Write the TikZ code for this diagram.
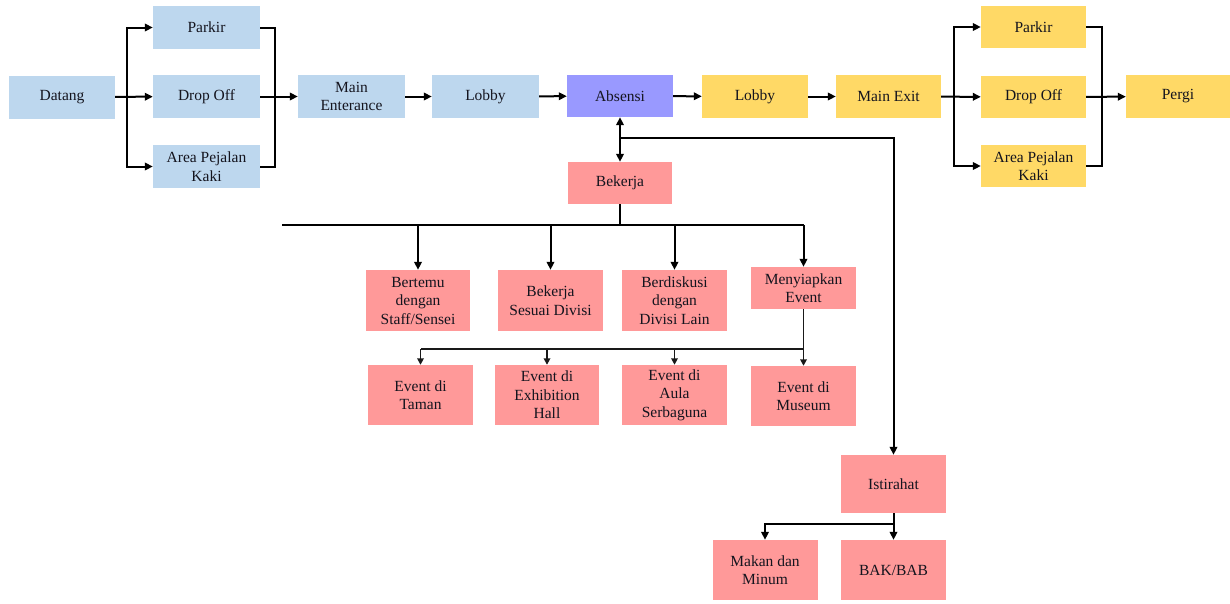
\documentclass[tikz,border=0pt]{standalone}
\usepackage{fontspec}
\setmainfont{Liberation Serif}
\newfontfamily\boxfont{Liberation Serif}
\usetikzlibrary{arrows.meta}
\definecolor{bluefill}{HTML}{BDD7EE}
\definecolor{goldfill}{HTML}{FFD966}
\definecolor{pinkfill}{HTML}{FF9999}
\definecolor{violetfill}{HTML}{9999FF}
\definecolor{ink}{HTML}{14141E}
\begin{document}
\begin{tikzpicture}[x=1pt,y=-1pt,
  box/.style={fill=#1, draw=none, minimum width=105pt, minimum height=43pt,
    inner sep=1pt, align=center, text=ink,
    font=\boxfont\fontsize{15.5}{18.5}\selectfont},
  tallbox/.style={box=#1, minimum height=61pt},
  wire/.style={line width=2pt, draw=black},
  flow/.style={wire, -{Triangle[length=8pt,width=7.5pt]}},
  dflow/.style={wire, {Triangle[length=8pt,width=7.5pt]}-{Triangle[length=8pt,width=7.5pt]}},
  thinwire/.style={line width=1.8pt, draw=black!90},
  thinflow/.style={thinwire, -{Triangle[length=6.5pt,width=6.5pt]}},
]
\useasboundingbox (0,0) rectangle (1230,603);

% arrival row
\node[box=bluefill, minimum width=106pt] (datang) at (62,97) {Datang};
\node[box=bluefill, minimum width=107pt] (parkirA) at (206.5,27.5) {Parkir};
\node[box=bluefill, minimum width=107pt] (dropA) at (206.5,96.5) {Drop Off};
\node[box=bluefill, minimum width=107pt] (kakiA) at (206.5,166.5) {Area Pejalan\\Kaki};
\node[box=bluefill, minimum width=107pt] (entrance) at (351.5,96.5) {Main\\Enterance};
\node[box=bluefill, minimum width=107pt] (lobbyA) at (485.5,96.5) {Lobby};
\node[box=violetfill, minimum width=106pt, minimum height=42pt] (absensi) at (620,96) {Absensi};

% departure row
\node[box=goldfill, minimum width=106pt] (lobbyB) at (755,96.5) {Lobby};
\node[box=goldfill] (exit) at (888.5,96.5) {Main Exit};
\node[box=goldfill, minimum height=42pt] (parkirB) at (1033.5,27) {Parkir};
\node[box=goldfill, minimum height=42pt] (dropB) at (1033.5,97) {Drop Off};
\node[box=goldfill, minimum height=42pt] (kakiB) at (1033.5,166) {Area Pejalan\\Kaki};
\node[box=goldfill, minimum width=104pt] (pergi) at (1178,96.5) {Pergi};

% work and breaks
\node[box=pinkfill, minimum width=104pt, minimum height=42pt] (bekerja) at (620,183) {Bekerja};
\node[tallbox=pinkfill, minimum width=104pt] (bertemu) at (418,300.5) {Bertemu\\dengan\\Staff/Sensei};
\node[tallbox=pinkfill] (sesuai) at (550.5,300.5) {Bekerja\\Sesuai Divisi};
\node[tallbox=pinkfill] (diskusi) at (674.5,300.5) {Berdiskusi\\dengan\\Divisi Lain};
\node[box=pinkfill, minimum height=42pt] (siapkan) at (803.5,288) {Menyiapkan\\Event};

\node[box=pinkfill, minimum height=60pt] (taman) at (420.5,395) {Event di\\Taman};
\node[box=pinkfill, minimum width=104pt, minimum height=60pt] (hall) at (547,395) {Event di\\Exhibition\\Hall};
\node[box=pinkfill, minimum height=60pt] (aula) at (674.5,395) {Event di\\Aula\\Serbaguna};
\node[box=pinkfill, minimum height=60pt] (museum) at (803.5,396) {Event di\\Museum};

\node[box=pinkfill, minimum height=58pt] (istirahat) at (893.5,484) {Istirahat};
\node[box=pinkfill, minimum height=60pt] (makan) at (765,570) {Makan dan\\Minum};
\node[box=pinkfill, minimum height=60pt] (bab) at (893.5,570) {BAK/BAB};

% junction points
\coordinate (splitA) at (127,97);
\coordinate (joinA) at (275,96.5);
\coordinate (splitB) at (954,96.5);
\coordinate (joinB) at (1102,96.5);
\coordinate (restTurn) at (620,138);
\coordinate (workHub) at (620,225);
\coordinate (workEnd) at (282,225);
\coordinate (eventHub) at (803.5,349);
\coordinate (breakHub) at (893.5,524);

% arrival connectors
\draw[flow] (datang) -- (dropA);
\draw[flow] (splitA) |- (parkirA);
\draw[flow] (splitA) |- (kakiA);
\draw[wire] (parkirA) -| (joinA);
\draw[wire] (kakiA) -| (joinA);
\draw[flow] (dropA) -- (entrance);
\draw[flow] (entrance) -- (lobbyA);
\draw[flow] (lobbyA) -- (absensi);
\draw[flow] (absensi) -- (lobbyB);
\draw[flow] (lobbyB) -- (exit);

% departure connectors
\draw[flow] (exit) -- (dropB);
\draw[flow] (splitB) |- (parkirB);
\draw[flow] (splitB) |- (kakiB);
\draw[wire] (parkirB) -| (joinB);
\draw[wire] (kakiB) -| (joinB);
\draw[flow] (dropB) -- (pergi);

% attendance to work and rest
\draw[dflow] (absensi) -- (bekerja);
\draw[flow] (restTurn) -| (istirahat);

% work activities
\draw[wire] (bekerja) -- (workHub);
\draw[wire] (workEnd) -- (workHub -| siapkan);
\draw[flow] (workHub -| bertemu) -- (bertemu);
\draw[flow] (workHub -| sesuai) -- (sesuai);
\draw[flow] (workHub -| diskusi) -- (diskusi);
\draw[flow] (workHub -| siapkan) -- (siapkan);

% event venues
\draw[thinflow] (siapkan) -- (museum);
\draw[thinwire] (eventHub) -- (eventHub -| taman);
\draw[thinflow] (eventHub -| taman) -- (taman);
\draw[thinflow] (eventHub -| hall) -- (hall);
\draw[thinflow] (eventHub -| aula) -- (aula);

% breaks
\draw[flow] (istirahat) -- (bab);
\draw[flow] (breakHub) -| (makan);
\end{tikzpicture}
\end{document}
